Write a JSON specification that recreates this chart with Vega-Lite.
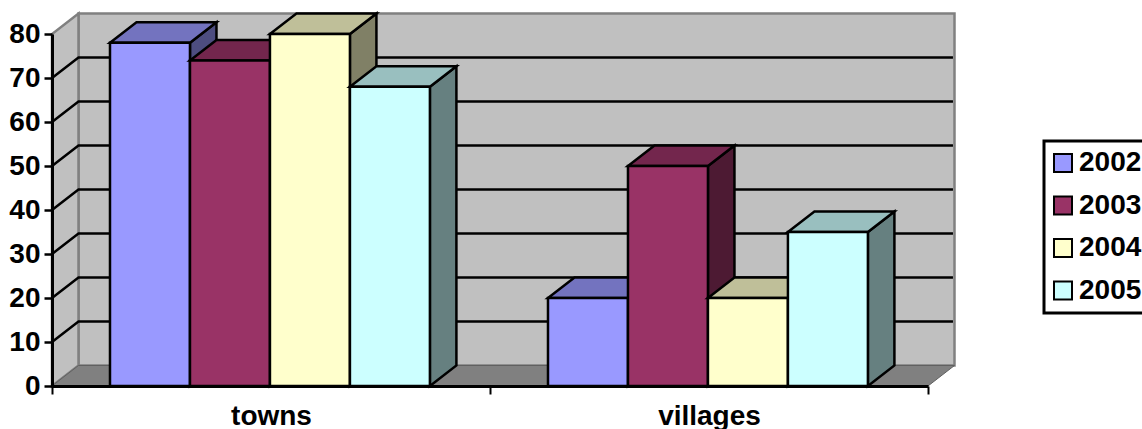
{"$schema":"https://vega.github.io/schema/vega-lite/v6.json","width":876,"height":352,"autosize":"none","padding":{"left":52,"top":34,"right":214,"bottom":43},"background":"white","config":{"view":{"stroke":null},"font":"Liberation Sans","legend":{"strokeWidth":3}},"datasets":{"bars":[{"category":"towns","year":"2002","value":78},{"category":"towns","year":"2003","value":74},{"category":"towns","year":"2004","value":80},{"category":"towns","year":"2005","value":68},{"category":"villages","year":"2002","value":20},{"category":"villages","year":"2003","value":50},{"category":"villages","year":"2004","value":20},{"category":"villages","year":"2005","value":35}],"ticks":[{"v":10},{"v":20},{"v":30},{"v":40},{"v":50},{"v":60},{"v":70}],"wall":[{"name":"wall"}]},"layer":[{"data":{"name":"wall"},"transform":[{"calculate":"[{g:'back',x:0.0605,y:4.66,y2:84.66},{g:'back',x:2.0605,y:4.66,y2:84.66},{g:'left',x:0,y:0,y2:80},{g:'left',x:0.0605,y:4.66,y2:84.66}]","as":"p"},{"flatten":["p"]},{"calculate":"datum.p.x","as":"px"},{"calculate":"datum.p.y","as":"py"},{"calculate":"datum.p.y2","as":"py2"},{"calculate":"datum.p.g","as":"g"}],"mark":{"type":"area","orient":"vertical","fill":"#C0C0C0","stroke":"#808080","strokeWidth":2.5},"encoding":{"x":{"field":"px","type":"quantitative","scale":{"domain":[0,2],"nice":false,"zero":false},"axis":{"title":null,"values":[0,0.5,1,1.5,2],"grid":false,"labelExpr":"datum.value===0.5?'towns':datum.value===1.5?'villages':''","labelFont":"Liberation Sans","labelFontWeight":"bold","labelFontSize":28,"labelColor":"black","labelOverlap":false,"labelBound":false,"labelFlush":false,"labelPadding":8,"domainColor":"black","domainWidth":3,"tickColor":"black","tickWidth":2,"tickSize":8,"tickOpacity":{"condition":{"test":"datum.value===0||datum.value===1||datum.value===2","value":1},"value":0},"zindex":1}},"y":{"field":"py","type":"quantitative","stack":null,"scale":{"domain":[0,80],"nice":false},"axis":{"title":null,"values":[0,10,20,30,40,50,60,70,80],"grid":false,"labelFont":"Liberation Sans","labelFontWeight":"bold","labelFontSize":28,"labelColor":"black","labelPadding":4,"domainColor":"black","domainWidth":3,"tickColor":"black","tickWidth":2.5,"tickSize":8,"zindex":1}},"y2":{"field":"py2"},"detail":{"field":"g"}}},{"data":{"name":"wall"},"transform":[{"calculate":"[{x:0,y:0,y2:0},{x:0.0605,y:0,y2:4.66},{x:2,y:0,y2:4.66},{x:2.0605,y:4.66,y2:4.66}]","as":"p"},{"flatten":["p"]},{"calculate":"datum.p.x","as":"px"},{"calculate":"datum.p.y","as":"py"},{"calculate":"datum.p.y2","as":"py2"}],"mark":{"type":"area","orient":"vertical","fill":"#808080","stroke":"#606060","strokeWidth":1},"encoding":{"x":{"field":"px","type":"quantitative"},"y":{"field":"py","type":"quantitative","stack":null},"y2":{"field":"py2"}}},{"data":{"name":"ticks"},"transform":[{"calculate":"[{x:0,y:datum.v},{x:0.0605,y:datum.v+4.66},{x:2.057,y:datum.v+4.66}]","as":"p"},{"flatten":["p"]},{"calculate":"datum.p.x","as":"px"},{"calculate":"datum.p.y","as":"py"}],"mark":{"type":"line","color":"black","strokeWidth":2.5},"encoding":{"x":{"field":"px","type":"quantitative"},"y":{"field":"py","type":"quantitative"},"detail":{"field":"v"}}},{"data":{"name":"bars"},"transform":[{"calculate":"(datum.category==='towns'?0:1)+0.1324+(+datum.year-2002)*0.1826","as":"xl"},{"calculate":"datum.xl+0.1826","as":"xr"},{"calculate":"[{f:'side',t:datum.year+' side',x:datum.xr,y:0,y2:datum.value},{f:'side',t:datum.year+' side',x:datum.xr+0.0605,y:4.66,y2:datum.value+4.66},{f:'top',t:datum.year+' top',x:datum.xl,y:datum.value,y2:datum.value},{f:'top',t:datum.year+' top',x:datum.xl+0.0605,y:datum.value,y2:datum.value+4.66},{f:'top',t:datum.year+' top',x:datum.xr,y:datum.value,y2:datum.value+4.66},{f:'top',t:datum.year+' top',x:datum.xr+0.0605,y:datum.value+4.66,y2:datum.value+4.66},{f:'front',t:datum.year,x:datum.xl,y:0,y2:datum.value},{f:'front',t:datum.year,x:datum.xr,y:0,y2:datum.value}]","as":"p"},{"flatten":["p"]},{"calculate":"datum.p.x","as":"px"},{"calculate":"datum.p.y","as":"py"},{"calculate":"datum.p.y2","as":"py2"},{"calculate":"datum.p.t","as":"tone"},{"calculate":"datum.category+datum.year+datum.p.f","as":"piece"}],"mark":{"type":"area","orient":"vertical","stroke":"black","strokeWidth":2.5,"strokeJoin":"miter","fillOpacity":1,"opacity":1},"encoding":{"x":{"field":"px","type":"quantitative"},"y":{"field":"py","type":"quantitative","stack":null},"y2":{"field":"py2"},"detail":{"field":"piece"},"fill":{"field":"tone","type":"nominal","scale":{"domain":["2002","2003","2004","2005","2002 top","2003 top","2004 top","2005 top","2002 side","2003 side","2004 side","2005 side"],"range":["#9999FF","#993366","#FFFFCC","#CCFFFF","#7373BF","#73264D","#BFBF99","#99BFBF","#4D4D80","#4D1A33","#808066","#668080"]},"legend":{"title":null,"values":["2002","2003","2004","2005"],"orient":"none","legendX":992,"legendY":107,"strokeColor":"black","fillColor":"white","padding":8,"symbolType":"square","symbolSize":324,"symbolOffset":-3,"symbolStrokeColor":"black","symbolStrokeWidth":2,"symbolOpacity":1,"labelFont":"Liberation Sans","labelFontWeight":"bold","labelFontSize":28,"labelColor":"black","labelOffset":2,"rowPadding":14.5,"labelLimit":200}}}}]}
